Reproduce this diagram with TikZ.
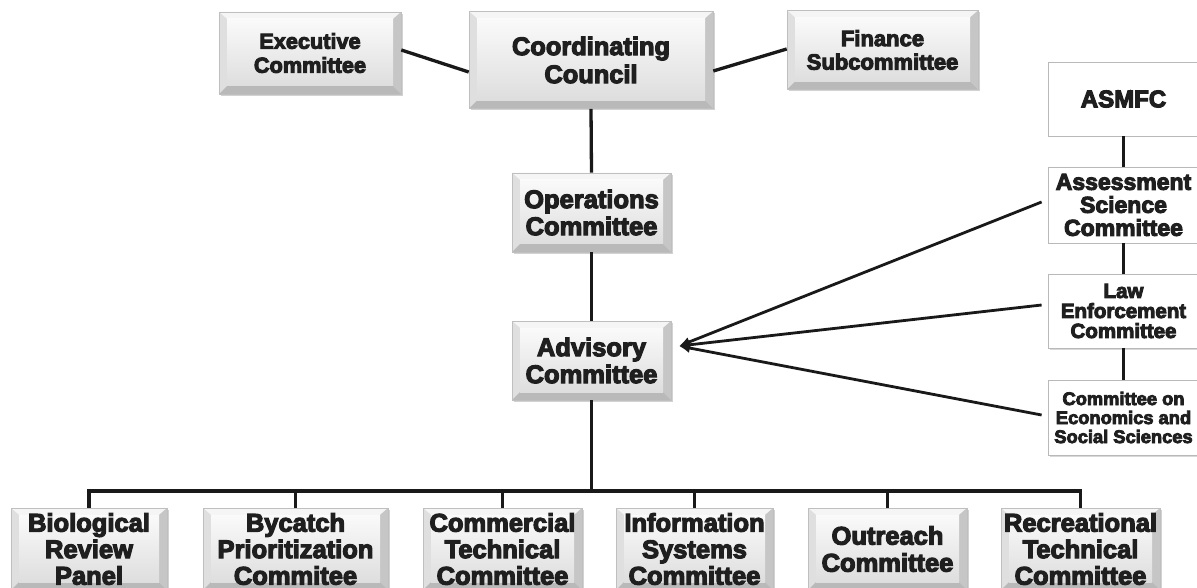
\documentclass[tikz,border=0pt]{standalone}
\usepackage{fontspec}
\newfontfamily\heavy{Liberation Sans}[BoldFeatures={FakeBold=4.5}]
\usetikzlibrary{shadows,arrows.meta,calc}

\definecolor{ink}{gray}{0.12}

\tikzset{
  fsz/.style 2 args={font=\heavy\bfseries\fontsize{#1}{#2}\selectfont},
  every node/.style={text=ink, align=center, inner sep=0pt},
  % raised grey box with a bevelled rim
  bevel/.style={draw=gray!50, line width=0.6pt, fill=gray!15,
    drop shadow={shadow xshift=2pt, shadow yshift=-2pt, opacity=0.35},
    path picture={
      \path (path picture bounding box.south west) coordinate (bsw)
            (path picture bounding box.north east) coordinate (bne)
            (path picture bounding box.north west) coordinate (bnw)
            (path picture bounding box.south east) coordinate (bse);
      \fill[gray!8]  (bnw) -- (bne) -- ([shift={(-8pt,-7pt)}]bne) -- ([shift={(8pt,-7pt)}]bnw) -- cycle;
      \fill[gray!25] (bnw) -- (bsw) -- ([shift={(8pt,8pt)}]bsw) -- ([shift={(8pt,-7pt)}]bnw) -- cycle;
      \fill[gray!45] (bne) -- (bse) -- ([shift={(-8pt,8pt)}]bse) -- ([shift={(-8pt,-7pt)}]bne) -- cycle;
      \fill[gray!55] (bsw) -- (bse) -- ([shift={(-8pt,8pt)}]bse) -- ([shift={(8pt,8pt)}]bsw) -- cycle;
      \shade[top color=gray!4, bottom color=gray!26]
        ([shift={(8pt,8pt)}]bsw) rectangle ([shift={(-8pt,-7pt)}]bne);
    }},
  % flat white box
  plain/.style={draw=gray!55, line width=0.8pt, fill=white,
    drop shadow={shadow xshift=1.5pt, shadow yshift=-1.5pt, opacity=0.3}},
  link/.style={line width=3.3pt, draw=black!90},
  feed/.style={line width=2.8pt, draw=black!90, -{Latex[length=11pt,width=10pt]}},
}

\begin{document}
\begin{tikzpicture}[x=1pt,y=-1pt]
\useasboundingbox (0,0) rectangle (1197,588);
\fill[white] (0,0) rectangle (1197,588);

% top row
\node[bevel, minimum width=182pt, minimum height=82pt, fsz={21.7}{24}] (exec) at (310,53) {Executive\\Committee};
\node[bevel, minimum width=244pt, minimum height=97pt, fsz={25.4}{28}] (coord) at (591,60) {Coordinating\\Council};
\node[bevel, minimum width=191pt, minimum height=79pt, fsz={22}{23.5}] (fin) at (882.5,50) {Finance\\Subcommittee};

% centre column
\node[bevel, minimum width=159pt, minimum height=79pt, fsz={25.5}{27}] (ops) at (591.5,212.5) {Operations\\Committee};
\node[bevel, minimum width=159pt, minimum height=79pt, fsz={25.5}{27}] (adv) at (591.5,360.5) {Advisory\\Committee};

% right column
\node[plain, minimum width=151pt, minimum height=74pt, fsz={24}{26}] (asmfc) at (1123.5,99) {ASMFC};
\node[plain, minimum width=151pt, minimum height=76pt, fsz={23}{23}] (ass) at (1123.5,205) {Assessment\\Science\\Committee};
\node[plain, minimum width=151pt, minimum height=74pt, fsz={20.5}{20}] (law) at (1123.5,311) {Law\\Enforcement\\Committee};
\node[plain, minimum width=151pt, minimum height=75pt, fsz={18.3}{19}] (econ) at (1123.5,417.5) {Committee on\\Economics and\\Social Sciences};

% bottom row
\node[bevel, minimum width=156pt, minimum height=82pt, fsz={25.5}{26.5}] (bio) at (89,549) {Biological\\Review\\Panel};
\node[bevel, minimum width=185pt, minimum height=82pt, fsz={25.5}{26.5}] (byc) at (295.5,549) {Bycatch\\Prioritization\\Commitee};
\node[bevel, minimum width=159pt, minimum height=82pt, fsz={25.5}{26.5}] (com) at (502.5,549) {Commercial\\Technical\\Committee};
\node[bevel, minimum width=157pt, minimum height=82pt, fsz={25.5}{26.5}] (info) at (694.5,549) {Information\\Systems\\Committee};
\node[bevel, minimum width=159pt, minimum height=82pt, fsz={25.5}{27}] (out) at (887.5,549) {Outreach\\Committee};
\node[bevel, minimum width=159pt, minimum height=82pt, fsz={25.5}{26.5}] (rec) at (1080.5,549) {Recreational\\Technical\\Committee};

% connectors
\draw[link] ([yshift=3pt]exec.east) -- ([yshift=-12pt]coord.west);
\draw[link] ([yshift=-11pt]coord.east) -- ([yshift=1pt]fin.west);
\draw[link] (coord.south) -- (ops.north);
\draw[link] (ops.south) -- (adv.north);

\draw[link] (asmfc.south) -- (ass.north);
\draw[link] (ass.south) -- (law.north);
\draw[link] (law.south) -- (econ.north);

\coordinate (bus) at (591.5,491);
\draw[link] (adv.south) -- (bus);
\draw[link, line cap=rect] (bio.north |- bus) -- (rec.north |- bus);
\foreach \n in {bio,byc,com,info,out,rec}
  \draw[link] (\n.north |- bus) -- (\n.north);

\coordinate (tip) at (679,346);
\draw[feed] ([shift={(-6pt,3pt)}]ass.west) -- (tip);
\draw[feed] ([shift={(-6pt,6pt)}]law.west) -- (tip);
\draw[feed] ([shift={(-6pt,2.5pt)}]econ.west) -- (tip);
\end{tikzpicture}
\end{document}
